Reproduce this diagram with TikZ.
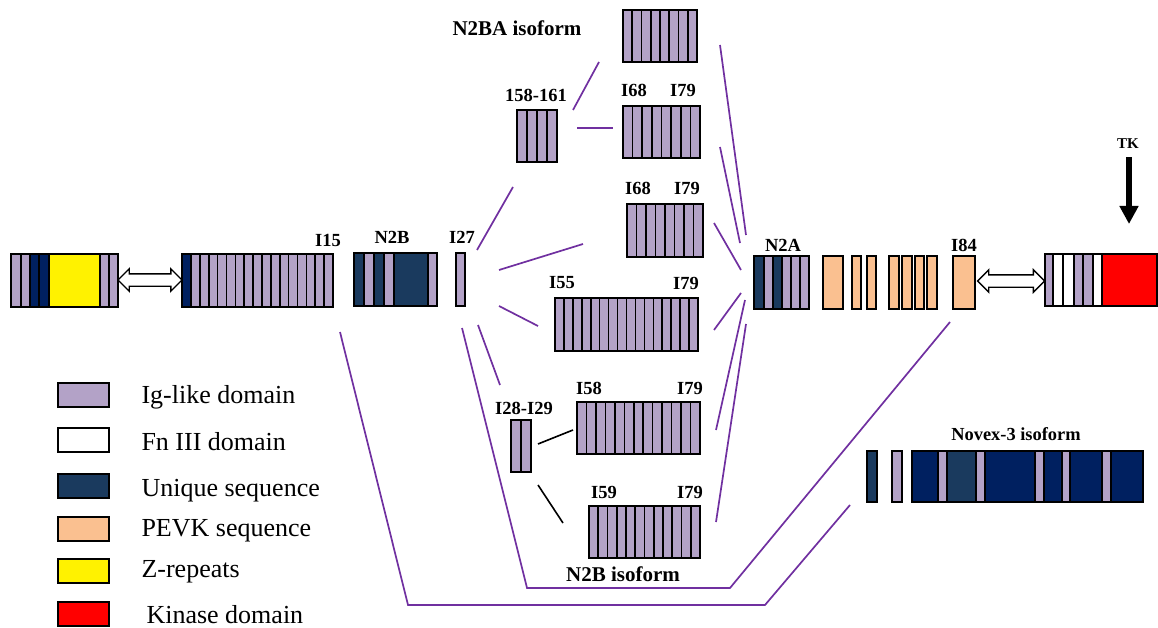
\documentclass[tikz,border=0pt]{standalone}
\usepackage{fontspec}
\setmainfont{Liberation Serif}
\usetikzlibrary{shapes.arrows,arrows.meta}
\definecolor{iglike}{HTML}{B3A2C7}
\definecolor{uniqueseq}{HTML}{1A3A5E}
\definecolor{navyseq}{HTML}{002060}
\definecolor{pevk}{HTML}{FAC090}
\definecolor{linkpurple}{HTML}{7030A0}
\tikzstyle{seg}=[draw=black,line width=1.6pt]
\tikzstyle{link}=[draw=linkpurple,line width=1.7pt]
\tikzstyle{blink}=[draw=black,line width=1.6pt]
\tikzstyle{lab}=[font=\bfseries\fontsize{18.5}{20}\selectfont]
\tikzstyle{isolab}=[font=\bfseries\fontsize{21}{24}\selectfont]
\tikzstyle{legtext}=[anchor=base west,font=\fontsize{26}{30}\selectfont]
\tikzstyle{legbox}=[seg,minimum width=51pt,minimum height=24pt,inner sep=0pt]
\tikzstyle{twoway}=[double arrow,draw=black,line width=1.4pt,fill=white,
  minimum height=64pt,inner sep=5.5pt,double arrow head extend=5pt]

% equal Ig repeats: left x, top, bottom, count, width
\newcommand{\igrun}[5]{\foreach \k in {1,...,#4}
  \draw[seg,fill=iglike] ({#1+(\k-1)*#5},#2) rectangle ({#1+\k*#5},#3);}

\begin{document}
\begin{tikzpicture}[x=1pt,y=-1pt]
  \useasboundingbox (0,0) rectangle (1158,628);

  % Z-disc end
  \foreach \a/\b/\c in {11/21/iglike,21/30/iglike,30/39/navyseq,39/49/navyseq,
      49/100/yellow,100/109/iglike,109/118/iglike}
    \draw[seg,fill=\c] (\a,254) rectangle (\b,307);
  \node[twoway] (zlink) at (150,280) {};

  % I-band, I15 block
  \draw[seg,fill=navyseq] (182,254) rectangle (191,307);
  \igrun{191}{254}{307}{16}{8.875}
  \node[lab] (i15) at (328,240) {I15};

  % N2B element and I27
  \foreach \a/\b/\c in {354/364/uniqueseq,364/374/iglike,374/384/uniqueseq,
      384/394/iglike,394/428/uniqueseq,428/437/iglike}
    \draw[seg,fill=\c] (\a,253) rectangle (\b,306);
  \node[lab] (n2b) at (392,237) {N2B};
  \draw[seg,fill=iglike] (456,253) rectangle (465,306);
  \node[lab] (i27) at (462,237) {I27};

  % spliced variants
  \igrun{623}{10}{62}{8}{9.25}
  \node[isolab] (n2ba) at (517,28) {N2BA isoform};

  \igrun{517}{110}{162}{4}{10}
  \node[lab] (i158) at (536,95) {158-161};

  \igrun{623}{106}{158}{8}{9.625}
  \node[lab] (i68a) at (634,90) {I68};
  \node[lab] (i79a) at (683,90) {I79};

  \igrun{627}{204}{257}{8}{9.5}
  \node[lab] (i68b) at (638,188) {I68};
  \node[lab] (i79b) at (687,188) {I79};

  \igrun{555}{298}{351}{16}{8.9375}
  \node[lab] (i55) at (562,283) {I55};
  \node[lab] (i79c) at (686,283) {I79};

  \igrun{511}{420}{472}{2}{10}
  \node[lab] (i28) at (524,408) {I28-I29};

  \igrun{577}{402}{454}{13}{9.46}
  \node[lab] (i58) at (589,388) {I58};
  \node[lab] (i79d) at (690,388) {I79};

  \igrun{589}{506}{558}{12}{9.25}
  \node[lab] (i59) at (604,492) {I59};
  \node[lab] (i79e) at (690,492) {I79};
  \node[isolab] (n2biso) at (623,574) {N2B isoform};

  % N2A element and PEVK
  \foreach \a/\b/\c in {754/764/uniqueseq,764/773/iglike,773/782/uniqueseq,
      782/791/iglike,791/800/iglike,800/809/iglike}
    \draw[seg,fill=\c] (\a,256) rectangle (\b,309);
  \foreach \a/\b in {823/843,852/861,867/876,889/899,902/912,915/924,927/937,953/975}
    \draw[seg,fill=pevk] (\a,256) rectangle (\b,309);
  \node[lab] (n2a) at (783,245) {N2A};
  \node[lab] (i84) at (964,245) {I84};
  \node[twoway,minimum height=67pt] (mlink) at (1011,281) {};

  % M-band end with kinase
  \foreach \a/\b/\c in {1045/1053/iglike,1053/1063/white,1063/1074/white,
      1074/1083/iglike,1083/1093/iglike,1093/1102/white,1102/1157/red}
    \draw[seg,fill=\c] (\a,254) rectangle (\b,306);
  \node[font=\bfseries\fontsize{15}{17}\selectfont] (tk) at (1128,144) {TK};
  \coordinate (tkend) at (1129,224);
  \draw[line width=6.5pt,-{Triangle[length=18pt,width=18pt]}] (tk.south) ++(1,5) -- (tkend);

  % Novex-3
  \draw[seg,fill=uniqueseq] (867,451) rectangle (877,502);
  \draw[seg,fill=iglike] (892,451) rectangle (902,502);
  \foreach \a/\b/\c in {912/938/navyseq,938/947/iglike,947/976/uniqueseq,
      976/985/iglike,985/1035/navyseq,1035/1044/iglike,1044/1062/navyseq,
      1062/1070/iglike,1070/1102/navyseq,1102/1111/iglike,1111/1143/navyseq}
    \draw[seg,fill=\c] (\a,451) rectangle (\b,502);
  \node[font=\bfseries\fontsize{18.4}{20}\selectfont] (novex) at (1016,434) {Novex-3 isoform};

  % splice connectors
  \coordinate (f1a) at (477,250); \coordinate (f1b) at (513,187);
  \coordinate (f2a) at (573,110); \coordinate (f2b) at (599,62);
  \coordinate (f3a) at (577,128); \coordinate (f3b) at (613,128);
  \coordinate (f4a) at (499,270); \coordinate (f4b) at (583,244);
  \coordinate (f5a) at (499,306); \coordinate (f5b) at (538,326);
  \coordinate (f6a) at (478,325); \coordinate (f6b) at (500,385);
  \foreach \n in {1,...,6} \draw[link] (f\n a) -- (f\n b);

  \coordinate (c1a) at (720,45);  \coordinate (c1b) at (746,235);
  \coordinate (c2a) at (720,147); \coordinate (c2b) at (740,243);
  \coordinate (c3a) at (714,223); \coordinate (c3b) at (741,270);
  \coordinate (c4a) at (714,330); \coordinate (c4b) at (741,293);
  \coordinate (c5a) at (716,430); \coordinate (c5b) at (745,300);
  \coordinate (c6a) at (716,522); \coordinate (c6b) at (746,324);
  \foreach \n in {1,...,6} \draw[link] (c\n a) -- (c\n b);

  \coordinate (b1a) at (538,444); \coordinate (b1b) at (573,430);
  \coordinate (b2a) at (538,485); \coordinate (b2b) at (563,523);
  \draw[blink] (b1a) -- (b1b) (b2a) -- (b2b);

  \coordinate (n2bl) at (462,328); \coordinate (n2br) at (950,322);
  \draw[link] (n2bl) -- (527,588) -- (730,588) -- (n2br);
  \coordinate (nvl) at (340,332); \coordinate (nvr) at (850,505);
  \draw[link] (nvl) -- (408,605) -- (765,605) -- (nvr);

  % legend
  \foreach \y/\c/\t/\bl/\tx in {395/iglike/Ig-like domain/403/138,
      440/white/Fn III domain/450/138,
      486/uniqueseq/Unique sequence/496/138,
      529/pevk/PEVK sequence/536/138,
      571/yellow/Z-repeats/577/138,
      614/red/Kinase domain/623/143}{
    \node[legbox,fill=\c] (key\y) at (83.5,\y) {};
    \node[legtext] (txt\y) at (\tx,\bl) {\t};
  }
\end{tikzpicture}
\end{document}
